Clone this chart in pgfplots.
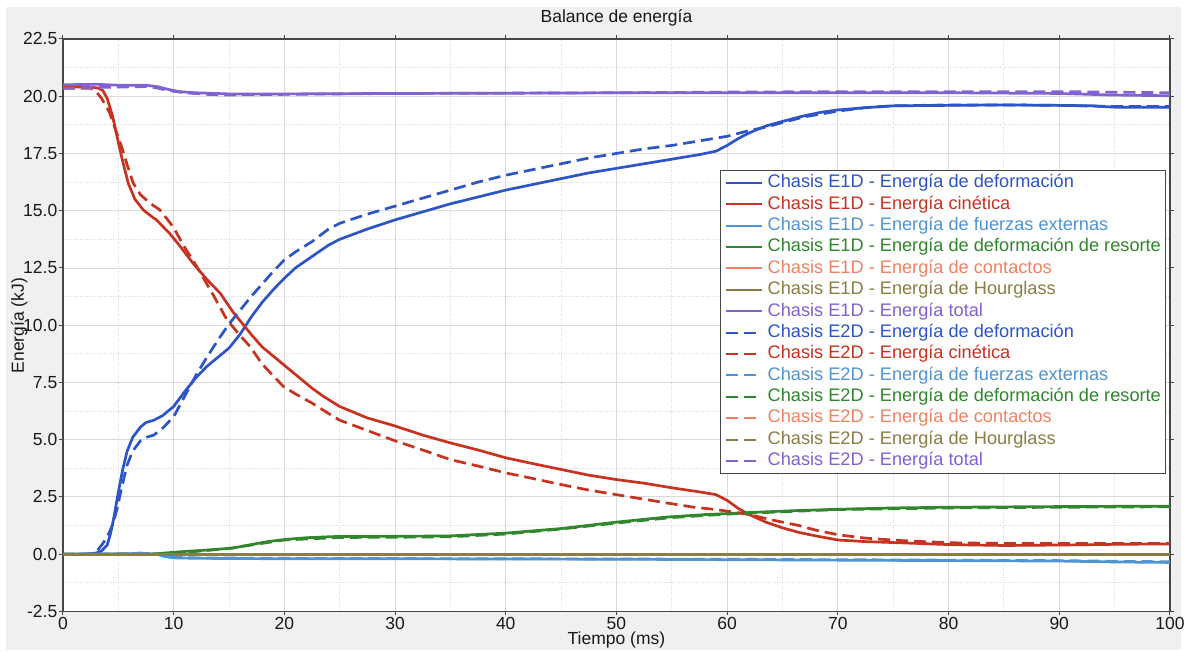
\documentclass[border=0pt]{standalone}
\usepackage{pgfplots}
\pgfplotsset{compat=1.18}
\usepackage{fontspec}
\setmainfont{Liberation Sans}
\definecolor{cdef}{RGB}{45,85,200}
\definecolor{ckin}{RGB}{200,50,32}
\definecolor{cext}{RGB}{80,148,210}
\definecolor{cspr}{RGB}{48,135,45}
\definecolor{ccon}{RGB}{240,130,100}
\definecolor{chg}{RGB}{140,125,70}
\definecolor{ctot}{RGB}{130,98,210}
\definecolor{bggray}{RGB}{240,240,240}
\definecolor{gridc}{RGB}{218,218,218}
\definecolor{axisc}{RGB}{70,70,70}
\definecolor{textc}{RGB}{25,25,25}
\begin{document}
\begin{tikzpicture}[x=1pt,y=1pt]
\fill[white] (0,0) rectangle (1186,651);
\fill[bggray] (6,0) rectangle (1182,644);
\begin{axis}[
  at={(63pt,39pt)}, anchor=south west,
  scale only axis, width=1108pt, height=573pt,
  xmin=0, xmax=100, ymin=-2.5, ymax=22.5,
  xtick={0,10,...,100}, ytick={-2.5,0,2.5,5,7.5,10,12.5,15,17.5,20,22.5},
  minor x tick num=1, minor y tick num=1,
  grid=both,
  major grid style={color=gridc, line width=0.9pt},
  minor grid style={color=gridc, dotted, line width=0.9pt},
  axis line style={draw=axisc, line width=1.2pt},
  tick align=outside, major tick length=4pt, minor tick length=0pt,
  tick style={axisc, line width=1pt},
  axis background/.style={fill=white},
  /pgf/number format/assume math mode=true,
  ticklabel style={font=\fontsize{17.5}{20}\selectfont, color=textc, inner sep=1.5pt},
  yticklabel style={/pgf/number format/fixed, /pgf/number format/fixed zerofill, /pgf/number format/precision=1},
  xticklabel style={/pgf/number format/fixed, /pgf/number format/precision=0},
  every axis plot/.append style={line width=2.7pt, line join=round},
  legend cell align=left,
  legend image code/.code={\draw[#1] (0pt,0pt) -- (36pt,0pt);},
  legend image post style={line width=2pt},
  legend style={at={(0.5939,0.7714)}, anchor=north west, draw=axisc, fill=white, line width=0.8pt,
    font=\fontsize{18.2}{22}\selectfont, inner sep=4pt, row sep=3.9pt,
    nodes={inner sep=0pt, text height=13.5pt, text depth=4pt},
    /tikz/column 1/.style={column sep=5pt}},
]
% ---- E1D (solid) ----
\addplot[cdef] coordinates {(0,0) (2,0) (3,0.05) (3.5,0.15) (4,0.4) (4.3,0.9) (4.6,1.6) (5,2.7) (5.4,3.7) (5.8,4.5) (6.3,5.1) (7,5.55) (7.5,5.75) (8.2,5.85) (9,6.05) (10,6.45) (11,7.1) (12,7.7) (13,8.2) (14,8.6) (15,9.0) (15.5,9.3) (16,9.6) (17,10.35) (18,11.0) (19,11.55) (20,12.05) (21,12.5) (22.5,13.0) (24,13.5) (25,13.75) (27.5,14.2) (30,14.6) (32.5,14.95) (35,15.3) (37.5,15.6) (40,15.9) (42.5,16.15) (45,16.4) (47.5,16.65) (50,16.85) (52.5,17.05) (55,17.25) (57.5,17.45) (59,17.6) (60,17.85) (61,18.15) (62,18.4) (63.5,18.7) (65,18.9) (67,19.15) (68.5,19.3) (70,19.4) (72.5,19.5) (75,19.58) (80,19.6) (85,19.62) (90,19.6) (93,19.58) (95,19.52) (100,19.52)};
\addlegendentry{\textcolor{cdef}{Chasis E1D - Energía de deformación}}
\addplot[ckin] coordinates {(0,20.4) (2.5,20.4) (3.2,20.35) (3.6,20.25) (4,19.9) (4.5,19.1) (5,18.0) (5.3,17.35) (5.9,16.2) (6.5,15.5) (7.25,15.04) (8,14.75) (8.45,14.6) (9.65,14.0) (10.5,13.5) (11.76,12.7) (13,12.0) (14.2,11.4) (15.4,10.55) (16.5,9.9) (17,9.6) (18,9.05) (20,8.25) (21,7.85) (22.5,7.25) (23.5,6.9) (25,6.45) (27.5,5.95) (30,5.6) (32.5,5.2) (35,4.86) (37.5,4.55) (40,4.21) (42.5,3.95) (45,3.7) (47.5,3.45) (50,3.26) (52.5,3.1) (55,2.9) (57.5,2.72) (59,2.6) (60,2.35) (61,2.0) (62,1.73) (63.5,1.4) (65,1.15) (66.5,0.95) (68,0.8) (70,0.62) (72.5,0.55) (75.5,0.5) (80,0.42) (85,0.38) (90,0.4) (95,0.43) (100,0.45)};
\addlegendentry{\textcolor{ckin}{Chasis E1D - Energía cinética}}
\addplot[cext] coordinates {(0,0) (6,0.02) (7,0.05) (8,0.02) (8.5,0) (9.2,-0.1) (10,-0.16) (12,-0.18) (20,-0.2) (30,-0.2) (40,-0.21) (50,-0.22) (60,-0.24) (70,-0.26) (80,-0.28) (90,-0.3) (95,-0.34) (100,-0.36)};
\addlegendentry{\textcolor{cext}{Chasis E1D - Energía de fuerzas externas}}
\addplot[cspr] coordinates {(0,0) (8,0) (9.4,0.06) (11,0.12) (13,0.18) (15.4,0.27) (17,0.42) (18.5,0.55) (20,0.64) (22,0.72) (24.5,0.77) (30,0.78) (35,0.8) (40,0.92) (45,1.12) (50,1.4) (54.5,1.62) (58,1.73) (62,1.82) (66,1.9) (70,1.96) (75,2.02) (80,2.05) (90,2.08) (100,2.1)};
\addlegendentry{\textcolor{cspr}{Chasis E1D - Energía de deformación de resorte}}
\addplot[ccon] coordinates {(0,0) (50,0) (100,0)};
\addlegendentry{\textcolor{ccon}{Chasis E1D - Energía de contactos}}
\addplot[chg] coordinates {(0,0) (50,0) (100,0)};
\addlegendentry{\textcolor{chg}{Chasis E1D - Energía de Hourglass}}
\addplot[ctot] coordinates {(0,20.5) (3,20.52) (5,20.48) (7.5,20.48) (8.5,20.42) (9.5,20.3) (10.5,20.2) (12,20.15) (15,20.1) (20,20.1) (30,20.12) (40,20.13) (50,20.15) (60,20.15) (70,20.15) (80,20.15) (90,20.12) (95,20.05) (100,20.02)};
\addlegendentry{\textcolor{ctot}{Chasis E1D - Energía total}}
% ---- E2D (dashed) ----
\addplot[cdef, dash pattern=on 12pt off 6pt] coordinates {(0,0) (2.5,0) (3,0.1) (3.5,0.4) (4,0.75) (4.5,1.3) (4.9,2.0) (5.3,2.9) (5.8,3.9) (6.3,4.5) (7,4.95) (7.5,5.1) (8.2,5.2) (9,5.5) (10,6.0) (11,6.9) (12,7.8) (13,8.6) (14,9.35) (15,10.05) (16,10.65) (17,11.25) (18,11.8) (19,12.35) (20,12.85) (21,13.2) (22.5,13.65) (24,14.2) (25,14.45) (27.5,14.85) (30,15.2) (32.5,15.55) (35,15.9) (37.5,16.25) (40,16.55) (42.5,16.8) (45,17.05) (47.5,17.3) (50,17.5) (52.5,17.7) (55,17.85) (57.5,18.05) (60,18.25) (62,18.5) (63.5,18.65) (65,18.85) (67,19.1) (70,19.35) (72.5,19.5) (75,19.58) (80,19.62) (85,19.62) (90,19.6) (95,19.55) (100,19.55)};
\addlegendentry{\textcolor{cdef}{Chasis E2D - Energía de deformación}}
\addplot[ckin, dash pattern=on 12pt off 6pt] coordinates {(0,20.35) (2.5,20.35) (3,20.2) (3.5,19.9) (4.2,19.3) (4.7,18.6) (5.3,17.8) (5.8,17.0) (6.35,16.2) (7,15.7) (7.85,15.33) (8.75,15.04) (9.95,14.3) (11,13.4) (12.1,12.55) (13.6,11.3) (14.8,10.25) (16,9.55) (16.9,9.07) (18,8.3) (19.9,7.33) (21,7.0) (22.5,6.6) (24.4,6.02) (25,5.85) (27.5,5.4) (30,4.95) (32.5,4.55) (35,4.13) (37.5,3.85) (40,3.55) (42.5,3.3) (45,3.04) (47.5,2.8) (50,2.6) (52.5,2.4) (54.5,2.24) (57,2.05) (59,1.95) (60,1.88) (62,1.73) (64,1.5) (66.5,1.25) (68,1.05) (70,0.85) (72.5,0.7) (75.5,0.6) (80,0.5) (85,0.47) (90,0.47) (95,0.47) (100,0.47)};
\addlegendentry{\textcolor{ckin}{Chasis E2D - Energía cinética}}
\addplot[cext, dash pattern=on 12pt off 6pt] coordinates {(0,0) (6,0.02) (7,0.04) (8,0.02) (8.5,0) (9.2,-0.08) (10,-0.14) (12,-0.16) (20,-0.18) (30,-0.19) (40,-0.2) (50,-0.21) (60,-0.22) (70,-0.24) (80,-0.26) (90,-0.28) (95,-0.31) (100,-0.33)};
\addlegendentry{\textcolor{cext}{Chasis E2D - Energía de fuerzas externas}}
\addplot[cspr, dash pattern=on 12pt off 6pt] coordinates {(0,0) (8,0) (10,0.05) (12,0.12) (15,0.25) (17,0.4) (20,0.62) (25,0.73) (30,0.74) (35,0.76) (40,0.88) (45,1.1) (50,1.36) (55,1.6) (60,1.75) (65,1.85) (70,1.95) (80,2.02) (90,2.05) (100,2.07)};
\addlegendentry{\textcolor{cspr}{Chasis E2D - Energía de deformación de resorte}}
\addplot[ccon, dash pattern=on 12pt off 6pt] coordinates {(0,0) (50,0) (100,0)};
\addlegendentry{\textcolor{ccon}{Chasis E2D - Energía de contactos}}
\addplot[chg, dash pattern=on 12pt off 6pt] coordinates {(0,0) (50,0) (100,0)};
\addlegendentry{\textcolor{chg}{Chasis E2D - Energía de Hourglass}}
\addplot[ctot, dash pattern=on 12pt off 6pt] coordinates {(0,20.35) (3,20.38) (5,20.4) (7.5,20.42) (8.5,20.36) (9.5,20.25) (11,20.15) (13,20.08) (15,20.05) (20,20.08) (30,20.12) (50,20.15) (60,20.18) (70,20.2) (80,20.2) (90,20.2) (100,20.15)};
\addlegendentry{\textcolor{ctot}{Chasis E2D - Energía total}}
\end{axis}
\node[font=\fontsize{17.5}{20}\selectfont, text=textc, anchor=base] at (617,628) {Balance de energía};
\node[font=\fontsize{17.5}{20}\selectfont, text=textc, anchor=base] at (617,5.5) {Tiempo (ms)};
\node[font=\fontsize{17.5}{20}\selectfont, text=textc, anchor=base, rotate=90] at (24,325) {Energía (kJ)};
\end{tikzpicture}
\end{document}
